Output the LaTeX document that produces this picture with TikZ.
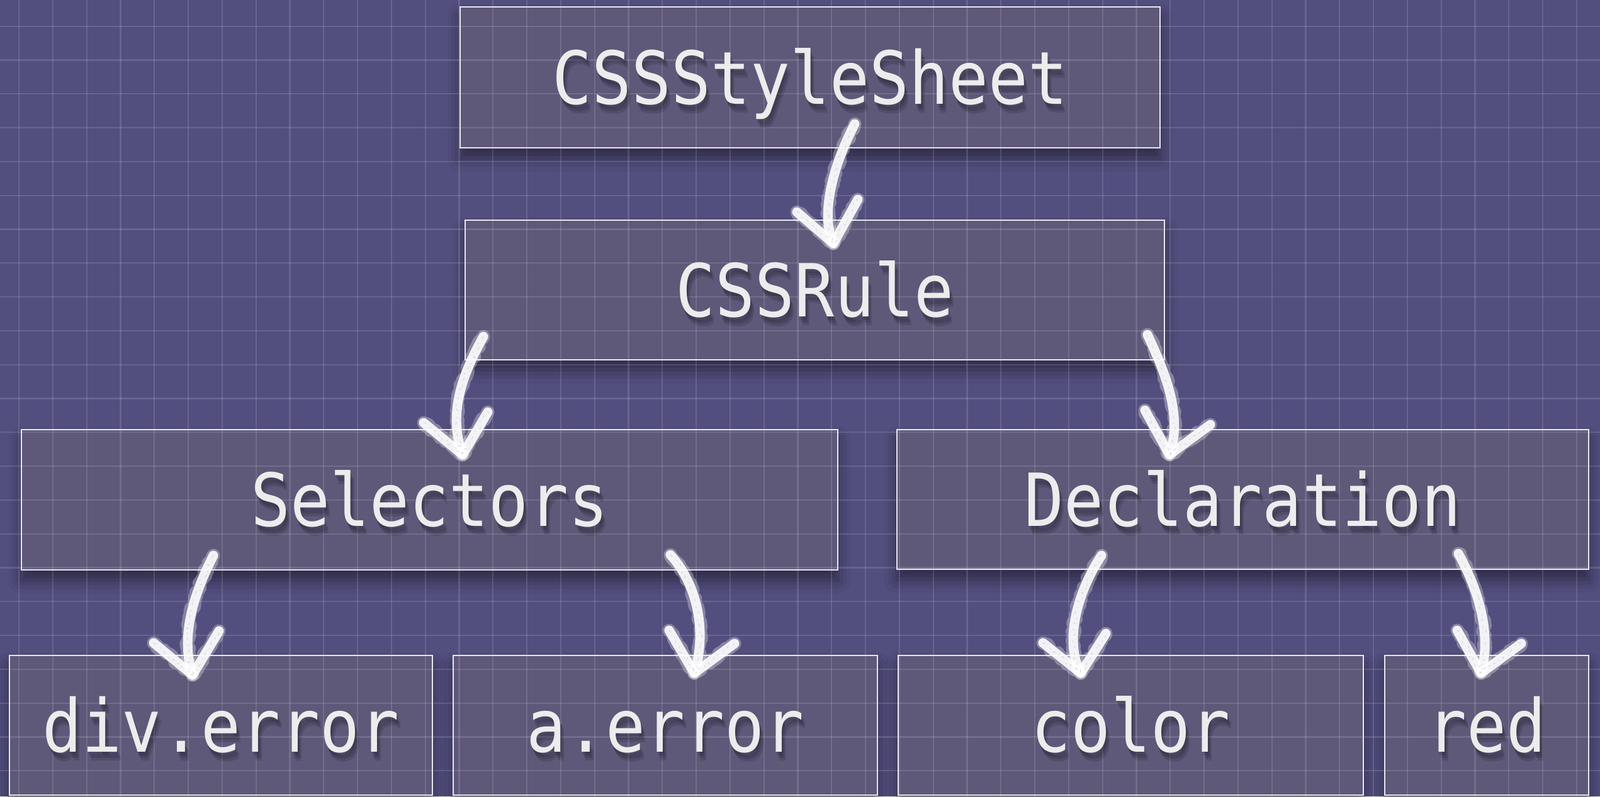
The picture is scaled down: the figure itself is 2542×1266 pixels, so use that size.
\documentclass[tikz,border=0pt]{standalone}
\usepackage{fontspec}
\newfontfamily\boxfont[FakeStretch=0.9]{DejaVu Sans Mono}
\usetikzlibrary{calc,shadows.blur,decorations.pathmorphing}
\definecolor{bgc}{RGB}{82,78,126}
\definecolor{boxfill}{RGB}{94,88,121}
\definecolor{txt}{RGB}{236,236,236}
\definecolor{edge}{RGB}{232,230,238}
\tikzset{
 boxnode/.style={rectangle, inner sep=0pt, outer sep=0pt, fill=boxfill,
   blur shadow={shadow xshift=0pt, shadow yshift=-8pt, shadow blur radius=10pt, shadow opacity=45}},
 edgebox/.style={draw=edge, line width=1.1pt},
 gridline/.style={draw=white, opacity=0.13, line width=1.1pt},
 lbl/.style={inner sep=0pt, text=txt, font=\boxfont\fontsize{58.15pt}{60pt}\selectfont, text height=42.4pt, text depth=0pt},
 lblshadow/.style={lbl, text=black, text opacity=0.12},
 chalkhalo/.style={draw=white, line width=10.5pt, line cap=round, line join=round, opacity=0.3,
   decorate, decoration={random steps, segment length=2pt, amplitude=1.3pt}},
 chalkline/.style={draw=white, line width=7.5pt, line cap=round, line join=round, opacity=0.9},
 chalkgrain/.style={draw=bgc!30!white, line width=0.7pt, opacity=0.6, line cap=round,
   dash pattern=on 2pt off 5pt on 1pt off 3pt,
   decorate, decoration={random steps, segment length=2.5pt, amplitude=1.8pt}},
}
\newcommand\boxlabel[2]{%
 \node[lblshadow] (#1-s1) at ($(#1.center)+(2,6)$) {#2};
 \node[lblshadow] (#1-s2) at ($(#1.center)+(4,10)$) {#2};
 \node[lblshadow] (#1-s3) at ($(#1.center)+(6,14)$) {#2};
 \node[lbl] (#1-t) at (#1.center) {#2};}
\newcommand\chalkarrow[7]{%
 \coordinate (#1-s) at (#2);
 \coordinate (#1-t) at (#5);
 \coordinate (#1-l) at (#6);
 \coordinate (#1-r) at (#7);
 \draw[chalkhalo] (#1-s) .. controls (#3) and (#4) .. (#1-t);
 \draw[chalkhalo] (#1-l) -- (#1-t) -- (#1-r);
 \draw[chalkline] (#1-s) .. controls (#3) and (#4) .. (#1-t);
 \draw[chalkline] (#1-l) -- (#1-t) -- (#1-r);
 \draw[chalkgrain] (#1-s) .. controls (#3) and (#4) .. (#1-t);
 \draw[chalkgrain] (#1-l) -- (#1-t) -- (#1-r);}
\begin{document}
\begin{tikzpicture}[x=0.5pt,y=-0.5pt]
\useasboundingbox (0,0) rectangle (2542,1266);
\clip (0,0) rectangle (2542,1266);
\fill[bgc] (0,0) rectangle (2542,1266);
% boxes (fill + shadow)
\node[boxnode, minimum width=556pt, minimum height=112pt] (sheet) at (1287,123) {};
\node[boxnode, minimum width=555.5pt, minimum height=111pt] (rule) at (1294.5,461) {};
\node[boxnode, minimum width=648.5pt, minimum height=111.5pt] (sel) at (682.5,794.5) {};
\node[boxnode, minimum width=549.5pt, minimum height=111pt] (decl) at (1974.5,794) {};
\node[boxnode, minimum width=336pt, minimum height=111pt] (div) at (351,1153) {};
\node[boxnode, minimum width=337pt, minimum height=111pt] (aerr) at (1057,1153) {};
\node[boxnode, minimum width=369.5pt, minimum height=111pt] (color) at (1796.5,1153) {};
\node[boxnode, minimum width=162pt, minimum height=111pt] (red) at (2362,1153) {};
% grid
\foreach \i in {0,...,46} \draw[gridline] ({30+53.8*\i},0) -- ({30+53.8*\i},1266);
\foreach \j in {0,...,22} \draw[gridline] (0,{41.7+53.8*\j}) -- (2542,{41.7+53.8*\j});
% borders
\foreach \b in {sheet,rule,sel,decl,div,aerr,color,red}
  \draw[edgebox] (\b.north west) rectangle (\b.south east);
% labels
\boxlabel{sheet}{CSSStyleSheet}
\boxlabel{rule}{CSSRule}
\boxlabel{sel}{Selectors}
\boxlabel{decl}{Declaration}
\boxlabel{div}{div.error}
\boxlabel{aerr}{a.error}
\boxlabel{color}{color}
\boxlabel{red}{red}
% chalk arrows
\chalkarrow{a1}{1358,197}{1320,270}{1304,345}{1324,387}{1266,337}{1363,317}
\chalkarrow{a2}{768,535}{732,600}{712,660}{735,723}{673,672}{775,655}
\chalkarrow{a3}{1823,532}{1850,590}{1880,660}{1858,723}{1819,652}{1923,675}
\chalkarrow{a4}{339,883}{310,940}{285,1010}{306,1073}{244,1022}{348,1003}
\chalkarrow{a5}{1065,882}{1105,925}{1125,1000}{1103,1070}{1063,1002}{1167,1023}
\chalkarrow{a6}{1750,883}{1712,940}{1690,1020}{1717,1070}{1657,1022}{1757,1007}
\chalkarrow{a7}{2317,880}{2350,940}{2370,1010}{2353,1070}{2315,1002}{2417,1023}
\end{tikzpicture}
\end{document}
